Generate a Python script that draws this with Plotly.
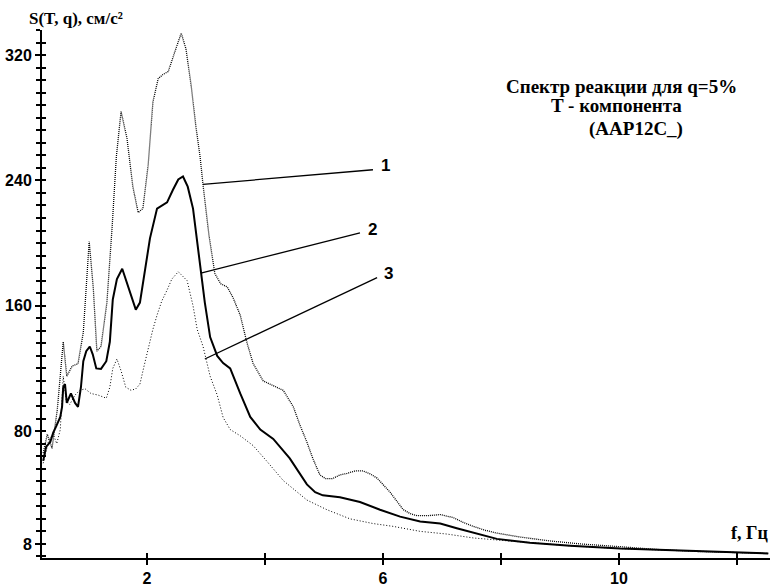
import plotly.graph_objects as go

# ---- data (f in Hz, S in cm/s^2) ----
f1 = [0.24,0.31,0.39,0.48,0.58,0.64,0.73,0.83,0.92,1.02,1.09,1.15,1.22,1.32,1.41,
      1.48,1.56,1.66,1.76,1.85,1.93,2.02,2.10,2.19,2.27,2.36,2.48,2.58,2.66,2.75,
      2.83,2.90,2.95,3.05,3.15,3.25,3.36,3.46,3.58,3.69,3.80,3.97,4.14,4.31,4.48,
      4.59,4.71,4.81,4.93,5.03,5.14,5.27,5.39,5.53,5.66,5.78,5.90,6.00,6.12,6.24,
      6.34,6.46,6.58,6.76,6.97,7.19,7.36,7.53,7.73,7.93,8.32,8.83,9.34,10.02,10.70,
      11.37,12.05,12.53]
s1 = [66,78,69,94,137,115,121.5,123,143,201,171,131,134,162,211,
      255,284,267,236,219.5,222,250,290,305,307.6,309.5,323,334,324,300,
      274,255,237,205,180.5,174,172,165,154,137,123,112,109,106,95.5,
      84,73,62.6,52,49.6,49.6,52,53,54.6,54.6,52.7,50,46,41,35,
      30,27.3,26,26,26.7,24.8,21.7,19.2,16.7,14.9,12.4,9.9,8,6.2,4.3,
      3.1,2.5,1.9]

f2 = [0.24,0.29,0.36,0.41,0.46,0.53,0.56,0.58,0.61,0.64,0.71,0.78,0.83,0.86,0.88,
      0.92,0.97,1.03,1.08,1.14,1.22,1.31,1.37,1.42,1.49,1.58,1.64,1.71,1.81,1.88,
      1.93,2.05,2.17,2.25,2.34,2.44,2.53,2.61,2.69,2.78,2.85,2.90,2.98,3.07,3.19,
      3.29,3.41,3.58,3.75,3.92,4.14,4.42,4.71,4.85,4.98,5.27,5.61,5.95,6.29,6.63,
      6.97,7.25,7.64,7.93,8.49,9.17,10.02,11.03,12.05,12.53]
s2 = [61,70,73,79,83,89,95.5,108,110,98,104,98,95.5,101.7,108,
      124.6,131,134,129,120,119.7,124.6,137,164,177,183.6,177,168,157.5,162,
      174,203,222,224,226,234,240.6,242.5,236,222,202,185,162,140,128,
      123.4,120,104,89,81,75,62.6,46,41,39,37.8,34.7,29.8,25.4,22.3,
      21,18,14.3,11.2,8.7,6.8,5.0,3.7,2.5,1.9]

f3 = [0.24,0.29,0.34,0.41,0.47,0.53,0.58,0.63,0.69,0.78,0.86,0.95,1.05,1.17,1.31,
      1.37,1.42,1.49,1.56,1.64,1.73,1.81,1.88,1.95,2.02,2.10,2.17,2.25,2.34,2.42,
      2.53,2.61,2.68,2.73,2.78,2.85,2.95,3.07,3.19,3.29,3.41,3.58,3.80,4.03,4.31,
      4.71,5.05,5.44,5.83,6.17,6.63,7.08,7.53,7.93,8.49,9.17,10.02,11.03,12.05,12.53]
s3 = [59.5,67,75,78,72,81,115,100,97,103,106,107,104,103,101,
      108,120,126,118.5,108,106,107,110,121.5,133,145,154,163,170,177,
      181.7,179,176,168,160,145,134,115,103,88.7,81,77,70.7,60.8,48.4,
      36,29.8,24,21,19.2,16,14.3,11.8,10.5,8.7,6.8,5,3.7,2.5,1.9]

curve_labels = ["1", "2", "3"]
y_tick_vals = [8, 80, 160, 240, 320]
x_tick_vals = [2, 4, 6, 8, 10, 12]
x_tick_text = ["2", "", "6", "", "10", ""]

# leader lines for curve labels: (x0, y0, x1, y1)
leaders = [(2.95, 237.5, 5.83, 246.8),
           (2.93, 181.0, 5.61, 206.5),
           (2.98, 126.0, 5.90, 178.0)]
label_pos = [(5.93, 249.5), (5.71, 208.5), (5.98, 180.5)]

serif = "Liberation Serif, Times New Roman, serif"
sans = "Liberation Sans, Arial, sans-serif"

Y_RANGE = [-1, 336]
X_RANGE = [0.22, 12.56]
TOP, BOTTOM = 30, 14
PLOT_H = 587 - TOP - BOTTOM

fig = go.Figure()
fig.add_trace(go.Scatter(x=f1, y=s1, mode="lines", cliponaxis=False,
                         line=dict(color="black", width=1.3, dash="1px,1px"),
                         name="1", showlegend=False))
fig.add_trace(go.Scatter(x=f2, y=s2, mode="lines",
                         line=dict(color="black", width=2),
                         name="2", showlegend=False))
fig.add_trace(go.Scatter(x=f3, y=s3, mode="lines",
                         line=dict(color="black", width=1, dash="1px,2px"),
                         name="3", showlegend=False))

for (x0, y0, x1, y1) in leaders:
    fig.add_shape(type="line", x0=x0, y0=y0, x1=x1, y1=y1, xref="x", yref="y",
                  line=dict(color="black", width=1.3))
for lab, (lx, ly) in zip(curve_labels, label_pos):
    fig.add_annotation(x=lx, y=ly, text=lab, showarrow=False, xanchor="left",
                       font=dict(family=sans, size=17, color="black", weight="bold"))

# title block
title_font = dict(family=serif, size=19, color="black", weight="bold")
fig.add_annotation(x=10.05, y=300.0, text="Спектр реакции для q=5%", showarrow=False,
                   font=title_font)
fig.add_annotation(x=9.95, y=287.5, text="T - компонента", showarrow=False,
                   font=title_font)
fig.add_annotation(x=10.29, y=273.0, text="(AAP12C_)", showarrow=False,
                   font=title_font)

# axis titles
fig.add_annotation(xref="paper", yref="paper", x=-15/728, y=(587 - BOTTOM - 18)/PLOT_H,
                   yanchor="middle", xanchor="left", text="S(T, q), см/с²",
                   showarrow=False,
                   font=dict(family=serif, size=17, color="black", weight="bold"))
fig.add_annotation(xref="paper", x=1.0, y=15, xanchor="right", yanchor="middle",
                   text="f, Гц", showarrow=False,
                   font=dict(family=serif, size=18, color="black", weight="bold"))

fig.update_layout(
    width=770, height=587,
    margin=dict(l=42, r=0, t=TOP, b=BOTTOM),
    paper_bgcolor="white", plot_bgcolor="white",
    xaxis=dict(range=X_RANGE, showgrid=False, zeroline=False,
               showline=True, linecolor="black", linewidth=2,
               tickmode="array", tickvals=x_tick_vals, ticktext=x_tick_text,
               ticks="outside", ticklen=5, tickwidth=1.5, tickcolor="black",
               tickfont=dict(family=sans, size=16, color="black", weight="bold")),
    yaxis=dict(range=Y_RANGE, showgrid=False, zeroline=False,
               showline=True, linecolor="black", linewidth=2,
               tickmode="array", tickvals=y_tick_vals,
               ticks="outside", ticklen=5, tickwidth=1.5, tickcolor="black",
               minor=dict(dtick=8, tick0=0, ticks="outside", ticklen=4,
                          tickcolor="black", tickwidth=1.5),
               tickfont=dict(family=sans, size=16, color="black", weight="bold")),
    xaxis2=dict(range=X_RANGE, overlaying="x", anchor="y", side="bottom",
                showgrid=False, zeroline=False, showline=False,
                tickmode="array", tickvals=x_tick_vals, showticklabels=False,
                ticks="inside", ticklen=5, tickwidth=1.5, tickcolor="black"),
    yaxis2=dict(range=Y_RANGE, overlaying="y", anchor="x", side="left",
                showgrid=False, zeroline=False, showline=False,
                tickmode="linear", tick0=0, dtick=8, showticklabels=False,
                ticks="inside", ticklen=4, tickwidth=1.5, tickcolor="black"),
)

# invisible trace to ensure overlay axes render
fig.add_trace(go.Scatter(x=[None], y=[None], xaxis="x2", yaxis="y2",
                         showlegend=False, hoverinfo="skip"))

fig.write_html("out.html")
